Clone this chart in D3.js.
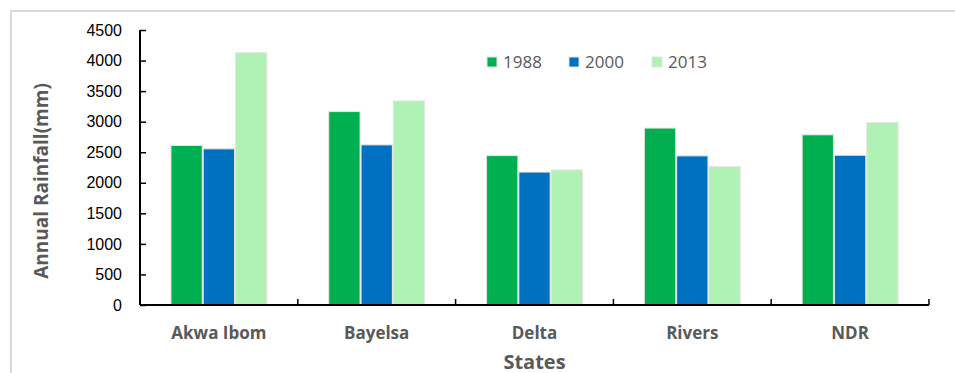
<!DOCTYPE html>
<html>
<head>
<meta charset="utf-8">
<script src="https://cdn.jsdelivr.net/npm/d3@7"></script>
<style>
  html, body { margin: 0; padding: 0; background: #fff; }
  svg { display: block; font-family: "Open Sans", "Noto Sans", sans-serif; }
</style>
</head>
<body>
<svg id="chart" width="955" height="373"></svg>
<script>
// Annual rainfall by state, three survey years
const states = ["Akwa Ibom", "Bayelsa", "Delta", "Rivers", "NDR"];
const years = ["1988", "2000", "2013"];
const rain1988 = [2610, 3165, 2445, 2895, 2785];
const rain2000 = [2555, 2620, 2175, 2440, 2450];
const rain2013 = [4130, 3340, 2210, 2265, 2985];
const yTicks = [0, 500, 1000, 1500, 2000, 2500, 3000, 3500, 4000, 4500];
const colors = ["#00B050", "#0070C0", "#B0F2B4"];

const seriesValues = [rain1988, rain2000, rain2013];

const svg = d3.select("#chart");

// Chart area frame
svg.append("rect")
  .attr("x", 11).attr("y", 11)
  .attr("width", 960).attr("height", 380)
  .attr("fill", "none")
  .attr("stroke", "#d9d9d9")
  .attr("stroke-width", 2);

const plotLeft = 140, plotRight = 929, plotTop = 30, plotBottom = 305;

const x = d3.scaleBand().domain(states).range([plotLeft, plotRight]).paddingInner(0).paddingOuter(0);
const groupPad = x.bandwidth() * 0.193;
const xs = d3.scaleBand().domain(years).range([groupPad, x.bandwidth() - groupPad]).padding(0);
const y = d3.scaleLinear().domain([0, 4500]).range([plotBottom, plotTop]);

// Bars
const g = svg.append("g");
years.forEach((yr, si) => {
  g.selectAll(null)
    .data(states.map((s, i) => ({ state: s, value: seriesValues[si][i] })))
    .join("rect")
    .attr("x", d => x(d.state) + xs(yr) + 0.5)
    .attr("y", d => y(d.value))
    .attr("width", xs.bandwidth() - 1)
    .attr("height", d => plotBottom - y(d.value))
    .attr("fill", colors[si])
    .attr("stroke", "#e4e4e4")
    .attr("stroke-width", 1);
});

// Y axis
const yAxis = d3.axisRight(y).tickValues(yTicks).tickSize(6).tickFormat(d3.format("d"));
const ya = svg.append("g").attr("transform", `translate(${plotLeft},0)`).call(yAxis);
ya.select(".domain").remove();
ya.append("line").attr("x1", 0).attr("x2", 0).attr("y1", plotTop).attr("y2", plotBottom)
  .attr("stroke", "#000").attr("stroke-width", 2);
ya.selectAll(".tick line").attr("stroke", "#000").attr("stroke-width", 1.5);
ya.selectAll(".tick text")
  .attr("x", -18).attr("text-anchor", "end")
  .attr("fill", "#000")
  .attr("font-size", 16);

// X axis with ticks at category boundaries
const xa = svg.append("g");
xa.append("line").attr("x1", plotLeft).attr("x2", plotRight).attr("y1", plotBottom).attr("y2", plotBottom)
  .attr("stroke", "#000").attr("stroke-width", 2);
const boundaries = states.map(s => x(s) + x.bandwidth());
xa.selectAll(null).data(boundaries).join("line")
  .attr("x1", d => d).attr("x2", d => d)
  .attr("y1", plotBottom).attr("y2", plotBottom - 6)
  .attr("stroke", "#000").attr("stroke-width", 1.5);
xa.selectAll(null).data(states).join("text")
  .attr("x", d => x(d) + x.bandwidth() / 2)
  .attr("y", 339)
  .attr("text-anchor", "middle")
  .attr("font-size", 17)
  .attr("font-weight", "bold")
  .attr("fill", "#595959")
  .text(d => d);

// Axis titles
svg.append("text")
  .attr("x", (plotLeft + plotRight) / 2)
  .attr("y", 369)
  .attr("text-anchor", "middle")
  .attr("font-size", 20)
  .attr("font-weight", "bold")
  .attr("fill", "#595959")
  .text("States");

svg.append("text")
  .attr("transform", `translate(48,${(80 + 282) / 2}) rotate(-90)`)
  .attr("text-anchor", "middle")
  .attr("font-size", 19)
  .attr("font-weight", "bold")
  .attr("fill", "#595959")
  .text("Annual Rainfall(mm)");

// Legend
const legendX = [487, 569, 652];
const lg = svg.append("g");
years.forEach((yr, i) => {
  lg.append("rect")
    .attr("x", legendX[i]).attr("y", 57)
    .attr("width", 10).attr("height", 10)
    .attr("fill", colors[i])
    .attr("stroke", "#e4e4e4").attr("stroke-width", 1);
  lg.append("text")
    .attr("x", legendX[i] + 16).attr("y", 68)
    .attr("font-size", 17)
    .attr("fill", "#595959")
    .text(yr);
});
</script>
</body>
</html>
